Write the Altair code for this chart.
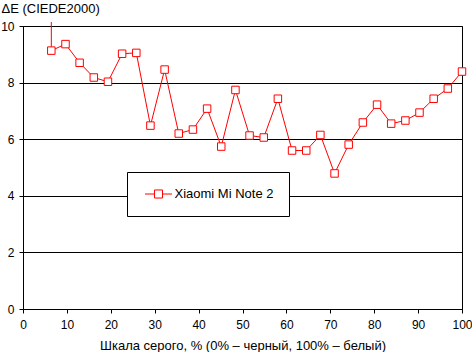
import altair as alt
import pandas as pd

series_name = "Xiaomi Mi Note 2"
gray_pct = [6.45, 9.68, 12.90, 16.13, 19.35, 22.58, 25.81, 29.03, 32.26, 35.48,
            38.71, 41.94, 45.16, 48.39, 51.61, 54.84, 58.06, 61.29, 64.52, 67.74,
            70.97, 74.19, 77.42, 80.65, 83.87, 87.10, 90.32, 93.55, 96.77, 100.0]
delta_e = [9.13, 9.36, 8.70, 8.18, 8.03, 9.02, 9.05, 6.48, 8.46, 6.20,
           6.34, 7.08, 5.74, 7.74, 6.13, 6.06, 7.43, 5.60, 5.60, 6.15,
           4.79, 5.81, 6.59, 7.22, 6.55, 6.66, 6.94, 7.43, 7.79, 8.39]
# segment coming from the off-scale previous point
lead_x = [6.45, 6.45]
lead_y = [9.13, 10.14]

df = pd.DataFrame({"x": gray_pct, "y": delta_e, "s": series_name})
lead = pd.DataFrame({"x": lead_x, "y": lead_y})

FONT = "Liberation Sans"

xenc = alt.X("x:Q", scale=alt.Scale(domain=[0, 100], nice=False),
             axis=alt.Axis(values=list(range(0, 101, 10)), grid=False,
                           title="Шкала серого, % (0% – черный, 100% – белый)",
                           titleFont=FONT, titleFontSize=13, titleFontWeight="normal",
                           titleColor="black", titleY=40, titleBaseline="alphabetic",
                           labelFont=FONT, labelFontSize=12, labelColor="black",
                           labelPadding=6, tickSize=4, tickColor="black",
                           domainColor="black", labelFlush=False))
yenc = alt.Y("y:Q", scale=alt.Scale(domain=[0, 10], nice=False),
             axis=alt.Axis(values=[0, 2, 4, 6, 8, 10], grid=True, gridColor="black",
                           gridOpacity=1, title="ΔE (CIEDE2000)", titleAngle=0,
                           titleX=-22, titleY=-14, titleAlign="left",
                           titleBaseline="alphabetic", titleFont=FONT,
                           titleFontSize=13, titleFontWeight="normal",
                           titleColor="black", labelFont=FONT, labelFontSize=12,
                           labelColor="black", labelPadding=5, tickSize=4,
                           tickColor="black", domainColor="black"))

legend_path = "M-2.08,0H-0.62M0.62,0H2.08M-0.62,-0.62H0.62V0.62H-0.62Z"

line = alt.Chart(df).mark_line(strokeWidth=1, clip=False).encode(
    x=xenc, y=yenc,
    color=alt.Color("s:N", scale=alt.Scale(domain=[series_name], range=["#ff0000"]),
                    legend=alt.Legend(title=None, orient="none", legendX=104, legendY=146,
                                      fillColor="white", strokeColor="black",
                                      padding=15, symbolType=legend_path, symbolSize=169,
                                      symbolStrokeColor="#ff0000", symbolFillColor="white",
                                      symbolStrokeWidth=1, symbolOffset=9.5,
                                      labelOffset=9, labelFont=FONT, labelFontSize=13,
                                      labelColor="black", labelLimit=300)))

lead_line = alt.Chart(lead).mark_line(strokeWidth=1, color="#ff0000", clip=False).encode(
    x="x:Q", y="y:Q")

points = alt.Chart(df).mark_point(shape="square", filled=True, fill="white",
                                  stroke="#ff0000", strokeWidth=1, size=56,
                                  opacity=1).encode(x="x:Q", y="y:Q")

chart = alt.layer(lead_line, line, points).properties(
    width=439, height=283,
    autosize=alt.AutoSizeParams(type="none"),
    padding={"left": 23, "top": 26, "right": 10, "bottom": 43},
    background="white",
).configure_view(stroke="black", strokeWidth=1)

chart.save("out.html", embed_options={"renderer": "svg", "actions": False})
